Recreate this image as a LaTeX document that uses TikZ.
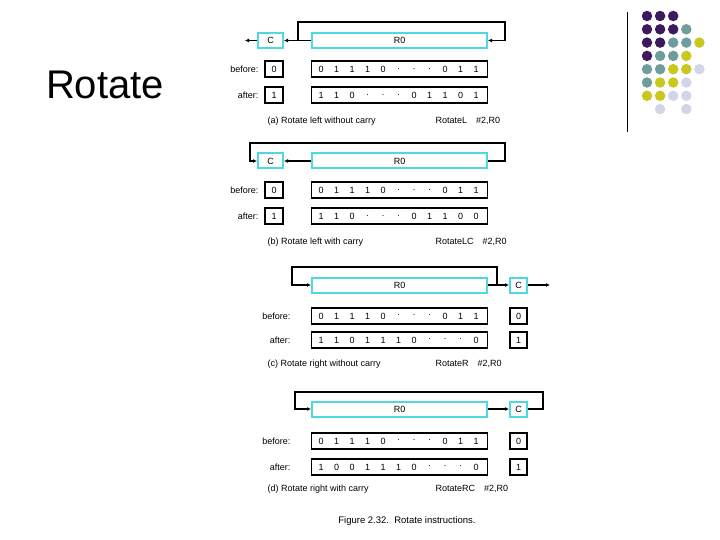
\documentclass[tikz,border=0pt]{standalone}
\usepackage{fontspec}
\setmainfont{Liberation Sans}
\usetikzlibrary{arrows.meta}
\definecolor{cy}{HTML}{4ED8E0}
\definecolor{pu}{HTML}{3D1A5E}
\definecolor{te}{HTML}{6F9C9C}
\definecolor{ye}{HTML}{C8C81E}
\definecolor{la}{HTML}{D4D4E8}
\begin{document}
\begin{tikzpicture}[x=1pt,y=-1pt,
  cbox/.style={draw=cy,line width=2pt,minimum height=15pt,inner sep=0pt,font=\fontsize{9}{10}\selectfont},
  bbox/.style={draw=black,line width=1.5pt,minimum height=16pt,inner sep=0pt,font=\fontsize{9}{10}\selectfont},
  lab/.style={font=\fontsize{9}{10}\selectfont,anchor=east},
  captxt/.style={font=\fontsize{9}{10}\selectfont,anchor=west},
  arr/.style={line width=1.5pt,-{Latex[length=4pt,width=4pt]}},
  dot/.style={circle,minimum size=10.5pt,inner sep=0pt}]
\useasboundingbox (0,0) rectangle (720,540);
\node[font=\fontsize{40}{42}\selectfont] (title) at (105,85) {Rotate};
\draw[line width=1pt] (627,12) -- (627,132);
% dots
\foreach \c/\col/\row in {pu/0/0,pu/1/0,pu/2/0,
 pu/0/1,pu/1/1,pu/2/1,te/3/1,
 pu/0/2,pu/1/2,te/2/2,te/3/2,ye/4/2,
 pu/0/3,te/1/3,te/2/3,ye/3/3,
 te/0/4,te/1/4,ye/2/4,ye/3/4,la/4/4,
 te/0/5,ye/1/5,ye/2/5,la/3/5,
 ye/0/6,ye/1/6,la/2/6,la/3/6,
 la/1/7,la/3/7}
 \node[dot,fill=\c] at ({647+13.1*\col},{16+13.3*\row}) {};
\newcommand{\bits}[3]{% y, name, list
 \node[bbox,minimum width=176pt] (#2) at (399.5,#1) {};
 \foreach \t [count=\i from 0] in {#3}
  \node[font=\fontsize{9}{10}\selectfont,inner sep=0pt] at ({321+15.5*\i},#1) {\t};}
% ===== (a)
\node[cbox,minimum width=25pt] (ca) at (270.5,40.5) {C};
\node[cbox,minimum width=175pt] (ra) at (399.5,40.5) {R0};
\coordinate (aj) at (298,40.5); \coordinate (al) at (245,40.5);
\draw[arr] (ra.west) -- (ca.east);
\draw[arr] (aj) |- (505,22) |- (ra.east);
\draw[arr] (ca.west) -- (al);
\node[lab] (ba) at (262,69) {before:};
\node[bbox,minimum width=18pt] (bca) at (274,69) {0};
\bits{69}{bra}{0,1,1,1,0,.,.,.,0,1,1}
\node[lab] (aa) at (262,95) {after:};
\node[bbox,minimum width=18pt] (aca) at (274,95) {1};
\bits{95}{ara}{1,1,0,.,.,.,0,1,1,0,1}
\node[captxt] (capa) at (264,121) {(a) Rotate left without carry};
\node[captxt] (ia) at (432,121) {RotateL\quad\#2,R0};
% ===== (b)
\node[cbox,minimum width=25pt] (cb) at (270.5,161) {C};
\node[cbox,minimum width=175pt] (rb) at (399.5,161) {R0};
\draw[arr] (rb.west) -- (cb.east);
\draw[arr] (rb.east) -| (505,143) -| (250,161) -- (cb.west);
\node[lab] (bb) at (262,190) {before:};
\node[bbox,minimum width=18pt] (bcb) at (274,190) {0};
\bits{190}{brb}{0,1,1,1,0,.,.,.,0,1,1}
\node[lab] (ab) at (262,216) {after:};
\node[bbox,minimum width=18pt] (acb) at (274,216) {1};
\bits{216}{arb}{1,1,0,.,.,.,0,1,1,0,0}
\node[captxt] (capb) at (264,242) {(b) Rotate left with carry};
\node[captxt] (ib) at (432,242) {RotateLC\quad\#2,R0};
% ===== (c)
\node[cbox,minimum width=175pt] (rc) at (399.5,285) {R0};
\node[cbox,minimum width=17pt] (cc) at (518.5,285) {C};
\coordinate (cj) at (497,285); \coordinate (cr) at (550,285);
\draw[arr] (cj) |- (292,267) |- (rc.west);
\draw[arr] (rc.east) -- (cc.west);
\draw[arr] (cc.east) -- (cr);
\node[lab] (bc) at (294,316) {before:};
\bits{316}{brc}{0,1,1,1,0,·,·,·,0,1,1}
\node[bbox,minimum width=17pt] (bcc) at (518.5,316) {0};
\node[lab] (ac) at (294,340) {after:};
\bits{340}{arc}{1,1,0,1,1,1,0,·,·,·,0}
\node[bbox,minimum width=17pt] (acc) at (518.5,340) {1};
\node[captxt] (capc) at (264,364) {(c) Rotate right without carry};
\node[captxt] (ic) at (432,364) {RotateR\quad\#2,R0};
% ===== (d)
\node[cbox,minimum width=175pt] (rd) at (399.5,409) {R0};
\node[cbox,minimum width=17pt] (cd) at (518.5,409) {C};
\draw[arr] (rd.east) -- (cd.west);
\draw[arr] (cd.east) -| (543,392) -| (295,409) -- (rd.west);
\node[lab] (bd) at (294,441) {before:};
\bits{441}{brd}{0,1,1,1,0,·,·,·,0,1,1}
\node[bbox,minimum width=17pt] (bcd) at (518.5,441) {0};
\node[lab] (ad) at (294,467) {after:};
\bits{467}{ard}{1,0,0,1,1,1,0,·,·,·,0}
\node[bbox,minimum width=17pt] (acd) at (518.5,467) {1};
\node[captxt] (capd) at (264,489) {(d) Rotate right with carry};
\node[captxt] (id) at (432,489) {RotateRC\quad\#2,R0};
\node[font=\fontsize{9.5}{10}\selectfont] (fig) at (407,521) {Figure 2.32.\ \ Rotate instructions.};
\end{tikzpicture}
\end{document}
